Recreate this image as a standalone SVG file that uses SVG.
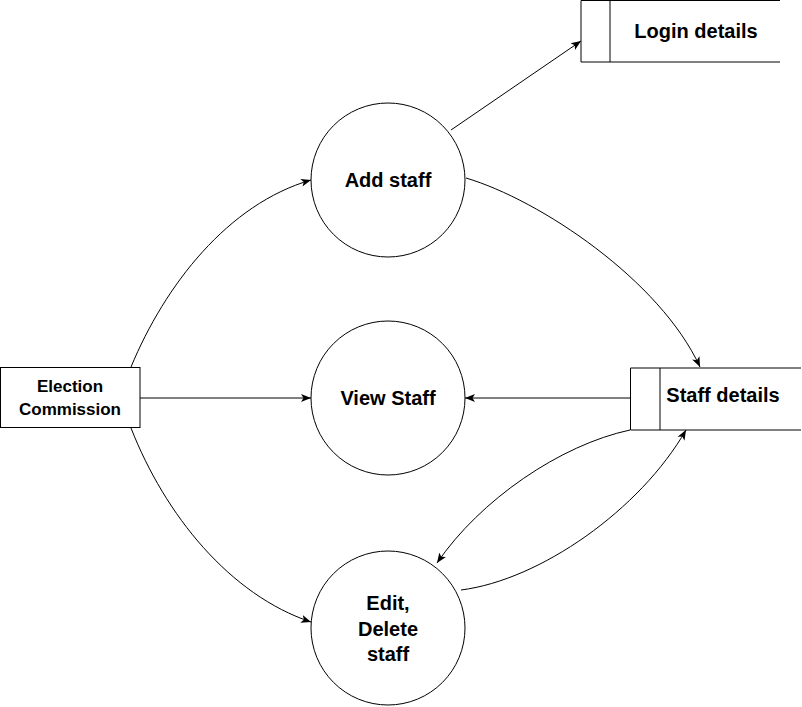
<svg xmlns="http://www.w3.org/2000/svg" width="802" height="707" viewBox="0 0 802 707">
<style>
.shape{fill:#fff;stroke:#000;stroke-width:1}
.edge{fill:none;stroke:#000;stroke-width:1}
.lbl{font-family:"Liberation Sans",Arial,sans-serif;font-weight:bold;fill:#000;text-anchor:middle}
.big{font-size:20px}
.small{font-size:17px}
</style>
<defs>
<marker id="arr" viewBox="0 0 10 10" refX="10" refY="5" markerWidth="10" markerHeight="10" markerUnits="userSpaceOnUse" orient="auto">
<path d="M0,1 L10,5 L0,9 L2.5,5 Z" fill="#000"/>
</marker>
</defs>
<rect width="802" height="707" fill="#fff"/>
<g id="connectors">
<path class="edge" d="M451,130 L581,41" marker-end="url(#arr)"/>
<path class="edge" d="M131,367 C165,285 228,204 311,180" marker-end="url(#arr)"/>
<path class="edge" d="M140,398 L311,398" marker-end="url(#arr)"/>
<path class="edge" d="M131,428 C165,515 230,595 311,622" marker-end="url(#arr)"/>
<path class="edge" d="M466,178 C540,200 660,280 700,367" marker-end="url(#arr)"/>
<path class="edge" d="M630,398 L465,398" marker-end="url(#arr)"/>
<path class="edge" d="M630,430 C560,445 480,500 437,563" marker-end="url(#arr)"/>
<path class="edge" d="M461,590 C540,580 640,510 686,430" marker-end="url(#arr)"/>
</g>
<g id="election-commission">
<rect class="shape" x="0.5" y="367.5" width="139.5" height="60"/>
<text class="lbl small" x="70" y="392">Election</text>
<text class="lbl small" x="70" y="415">Commission</text>
</g>
<g id="add-staff">
<circle class="shape" cx="388" cy="180" r="77"/>
<text class="lbl big" x="388" y="187">Add staff</text>
</g>
<g id="view-staff">
<circle class="shape" cx="388" cy="398" r="77"/>
<text class="lbl big" x="388" y="405">View Staff</text>
</g>
<g id="edit-delete-staff">
<circle class="shape" cx="388" cy="628" r="77"/>
<text class="lbl big" x="388" y="610">Edit,</text>
<text class="lbl big" x="388" y="636">Delete</text>
<text class="lbl big" x="388" y="661">staff</text>
</g>
<g id="login-details">
<path class="edge" d="M780,0.5 L581,0.5 L581,62 L780,62 M610,0.5 L610,62"/>
<text class="lbl big" x="696" y="38">Login details</text>
</g>
<g id="staff-details">
<rect x="631" y="368" width="170" height="62" fill="#fff"/>
<path class="edge" d="M801,368 L630.5,368 L630.5,430 L801,430 M660,368 L660,430"/>
<text class="lbl big" x="723" y="402">Staff details</text>
</g>
</svg>
